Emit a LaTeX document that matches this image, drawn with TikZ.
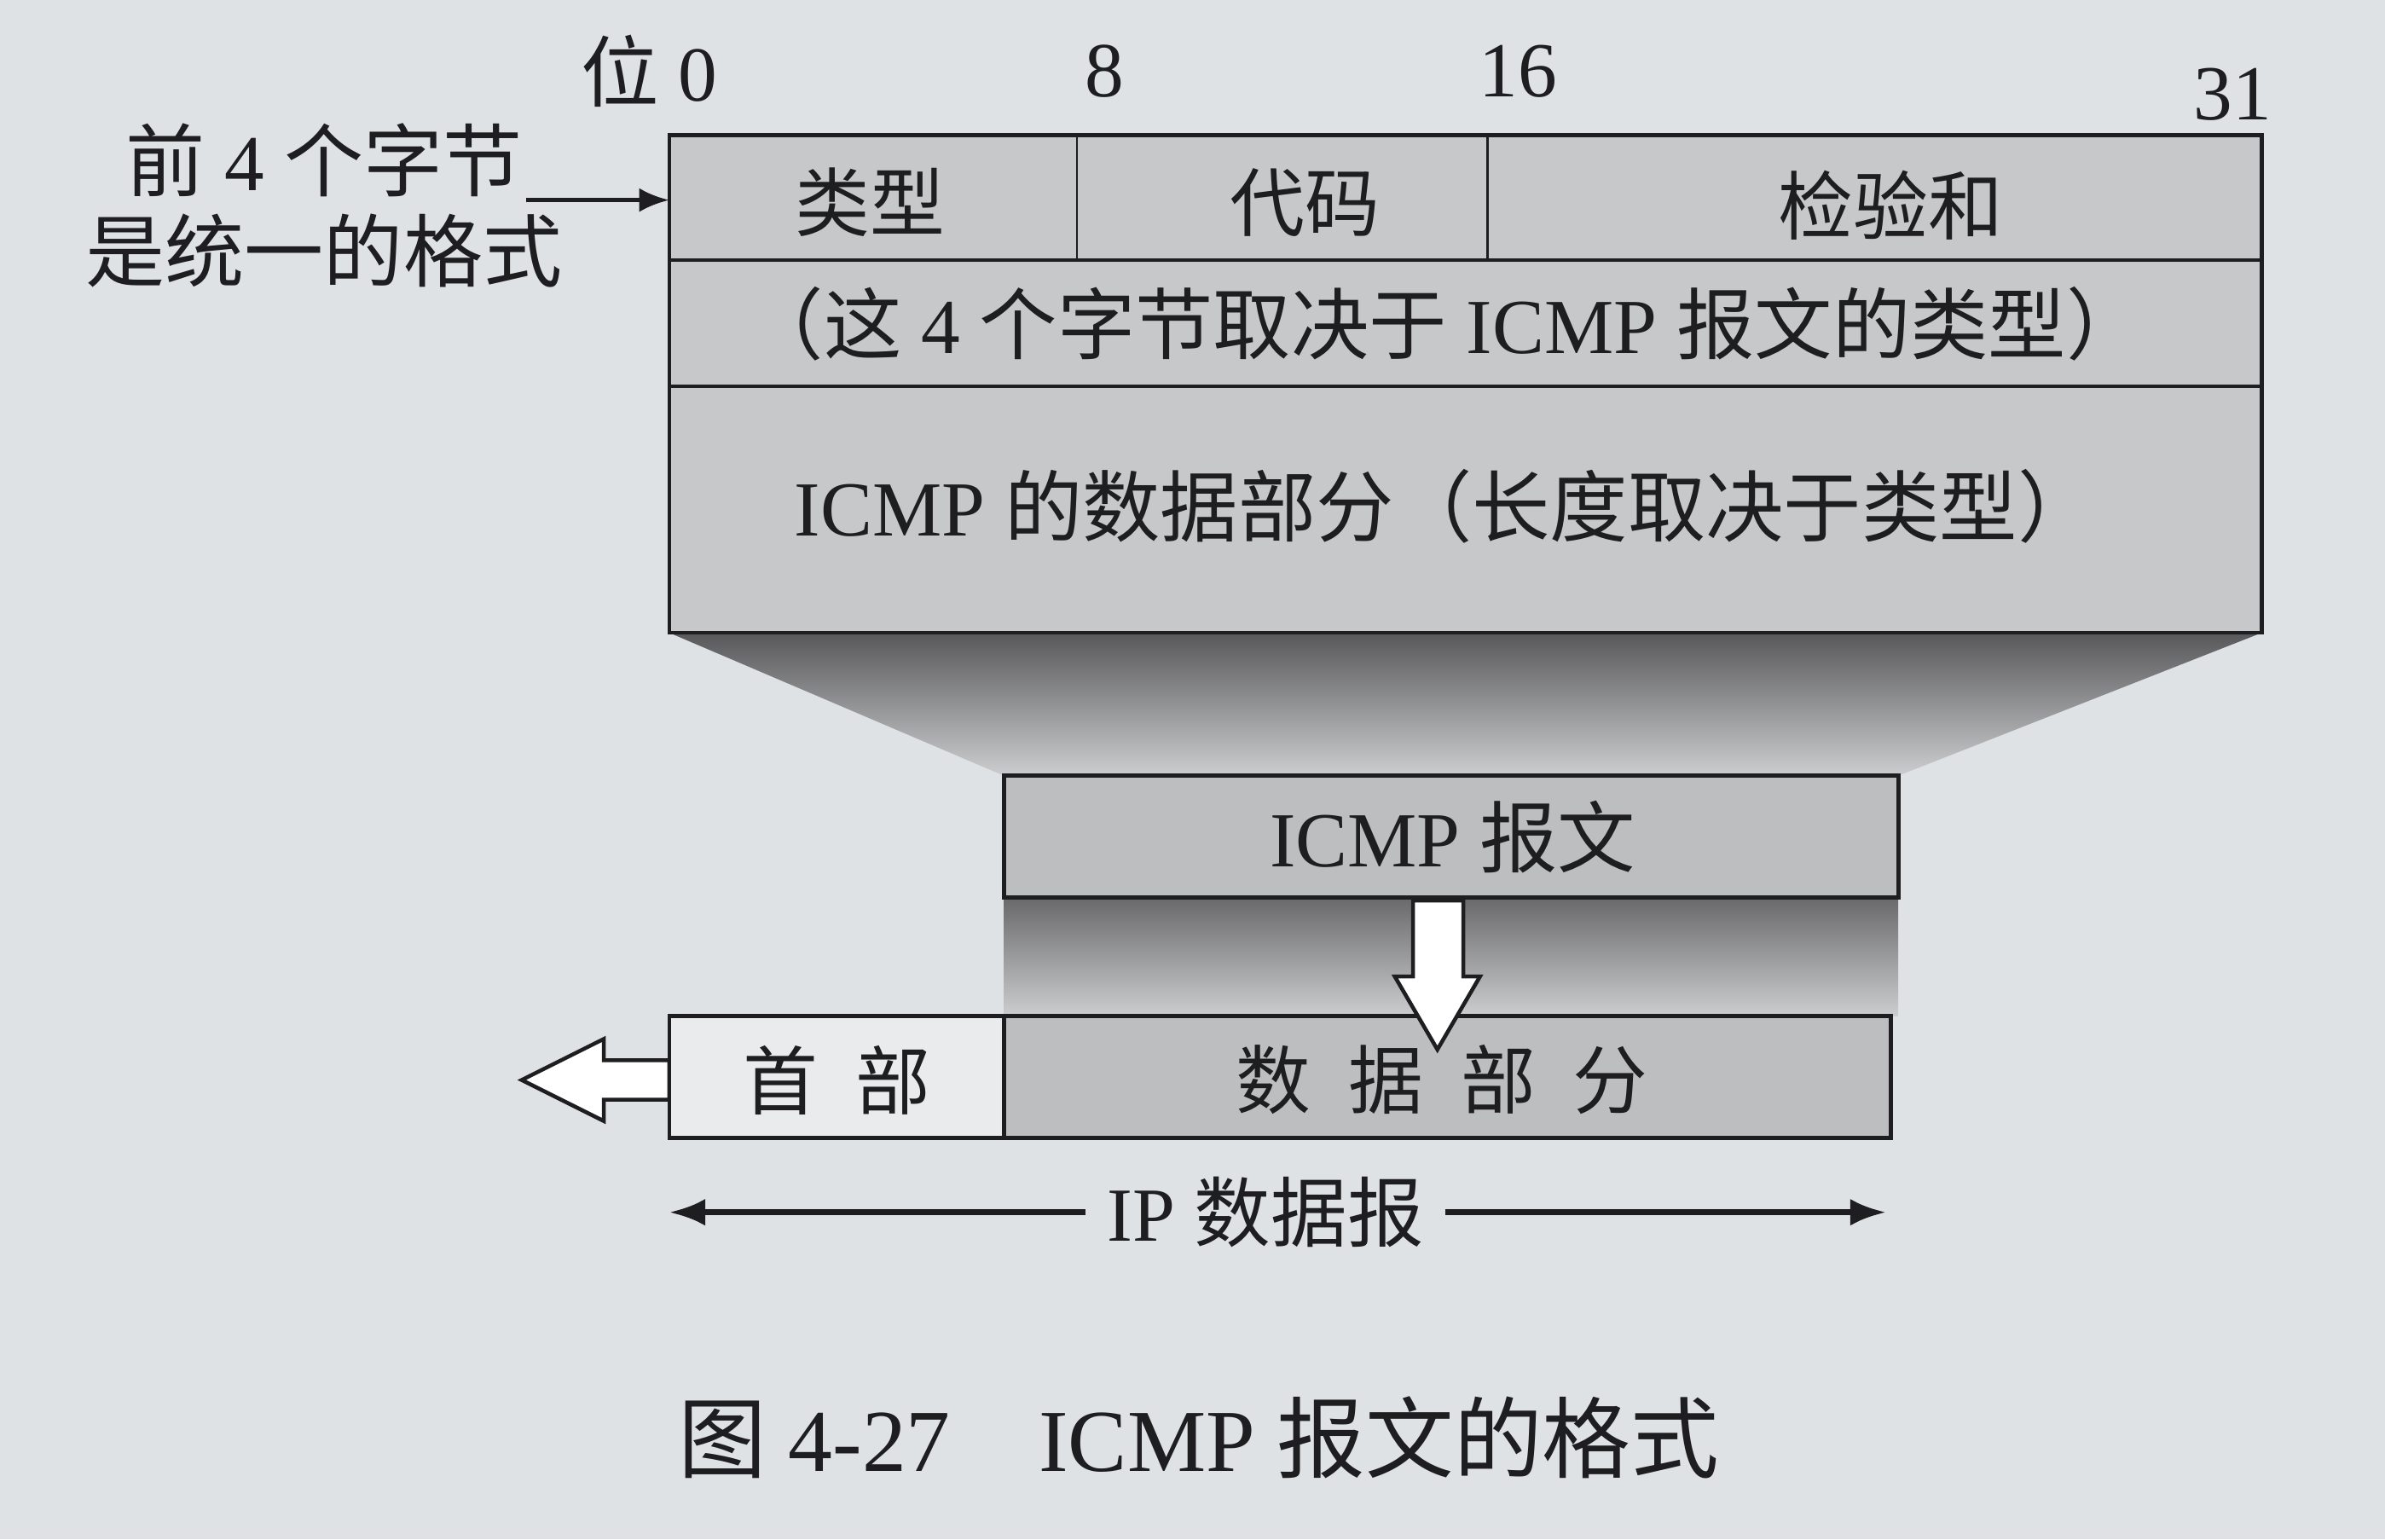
\documentclass[tikz,border=0pt]{standalone}
\usepackage{fontspec}
\setmainfont{Liberation Serif}
\newfontfamily\cjk{Noto Sans CJK SC}
\usetikzlibrary{arrows.meta}
\usetikzlibrary{calc}
\usetikzlibrary{positioning}

\definecolor{paper}{RGB}{223,226,229}
\definecolor{cellgray}{RGB}{199,200,202}
\definecolor{msggray}{RGB}{189,190,192}
\definecolor{headwhite}{RGB}{234,235,237}
\definecolor{shadedark}{RGB}{88,88,90}
\definecolor{shadelight}{RGB}{204,205,207}
\definecolor{ink}{RGB}{30,30,32}

\newcommand{\zh}[1]{{\cjk #1}}

\tikzset{
  frame/.style={draw=ink, line width=1.3pt},
  txt/.style={text=ink, font=\fontsize{25}{30}\selectfont, inner sep=1pt},
  wide/.style={text=ink, font=\fontsize{26}{31}\selectfont, inner sep=1pt},
  lbl/.style={text=ink, font=\fontsize{26.5}{31}\selectfont, inner sep=1pt},
  num/.style={text=ink, font=\fontsize{26}{31}\selectfont, inner sep=1pt},
  blockarrow/.style={draw=ink, line width=1.3pt, fill=white, line join=miter},
}

\begin{document}
\begin{tikzpicture}[x=0.017838cm, y=-0.017838cm, >={Latex[length=10pt,width=8pt]}]

  \fill[paper] (0,0) rectangle (1568,1012);
  \useasboundingbox (0,0) rectangle (1568,1012);

  \coordinate (m0) at (440,89);
  \coordinate (m1) at (1487,416);
  \coordinate (c0) at (660,510);
  \coordinate (c1) at (1248,590);
  \coordinate (d0) at (440,668);
  \coordinate (d1) at (1243,748);

%%%%%%%%%%%% Shadows
  \shade[top color=shadedark, bottom color=shadelight]
    (440,416) -- (1487,416) -- (1248,510) -- (660,510) -- cycle;
  \shade[top color=shadedark!90, bottom color=shadelight]
    (660,590) rectangle (1248,668);

%%%%%%%%%%%% ICMP header
  \draw[frame, fill=cellgray] (m0) rectangle (m1);
  \foreach \y in {171,254} {
    \draw[draw=ink, line width=1.2pt] (440,\y) -- (1487,\y);
  }
  \foreach \x in {708,978} {
    \draw[draw=ink, line width=0.7pt] (\x,89) -- (\x,171);
  }
  \node[txt] (type) at (572,133) {\zh{类型}};
  \node[txt] (code) at (858,133) {\zh{代码}};
  \node[txt] (csum) at (1243,135) {\zh{检验和}};
  \node[wide] (rest) at (950,213)
    {\zh{（这}~4~\zh{个字节取决于}~ICMP~\zh{报文的类型）}};
  \node[wide] (data) at (950,333)
    {ICMP~\zh{的数据部分（长度取决于类型）}};

  \node[num] (b0) at (427,47) {\zh{位}~0};
  \node[num] (b8) at (726,47) {8};
  \node[num] (b16) at (998,47) {16};
  \node[num] (b31) at (1468,62) {31};

  \node[lbl] (fmtA) at (213,105) {\zh{前}~4~\zh{个字节}};
  \node[lbl] (fmtB) at (213,165) {\zh{是统一的格式}};
  \draw[->, draw=ink, line width=1.5pt] (fmtA.south east) -- (fmtA.south east -| m0);

%%%%%%%%%%%% ICMP message
  \draw[frame, fill=msggray] (c0) rectangle (c1);
  \node[txt, font=\fontsize{26}{31}\selectfont] (msg) at (955,550) {ICMP~\zh{报文}};

%%%%%%%%%%%% IP datagram
  \draw[blockarrow] (440,697) -- (397,697) -- (397,683) -- (343,710)
    -- (397,737) -- (397,723) -- (440,723) -- cycle;
  \draw[frame, fill=headwhite] (d0) rectangle (660,748);
  \draw[frame, fill=msggray] (660,668) rectangle (d1);
  \node[txt] (head) at (550,710) {\zh{首\enspace 部}};
  \node[txt] (body) at (948,710) {\zh{数\enspace 据\enspace 部\enspace 分}};

  \draw[blockarrow] (929,592) -- (962,592) -- (962,642) -- (973,642)
    -- (945,690) -- (917,642) -- (929,642) -- cycle;

  \node[txt, font=\fontsize{25.5}{30}\selectfont, inner xsep=7pt] (ipdg) at (832,797) {IP~\zh{数据报}};
  \coordinate (dgL) at (440,797);
  \coordinate (dgR) at (1240,797);
  \draw[-{Latex[length=12pt,width=9pt]}, draw=ink, line width=2pt] (ipdg.west) -- (dgL);
  \draw[-{Latex[length=12pt,width=9pt]}, draw=ink, line width=2pt] (ipdg.east) -- (dgR);

  \node[text=ink, font=\fontsize{29.5}{35}\selectfont] (caption) at (788,945)
    {\zh{图}~4-27\hspace{1em}ICMP~\zh{报文的格式}};

\end{tikzpicture}
\end{document}
